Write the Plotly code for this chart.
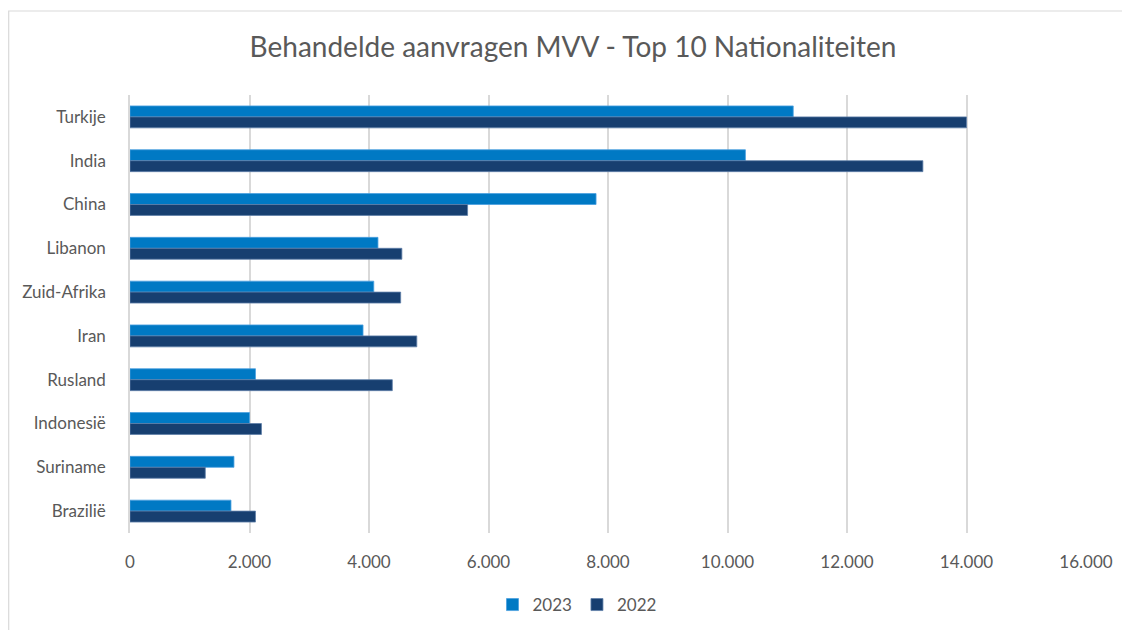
import plotly.graph_objects as go

categories = ["Turkije", "India", "China", "Libanon", "Zuid-Afrika", "Iran",
              "Rusland", "Indonesië", "Suriname", "Brazilië"]
values_2023 = [11100, 10300, 7800, 4150, 4080, 3900, 2100, 2000, 1740, 1690]
values_2022 = [14000, 13270, 5650, 4550, 4530, 4800, 4390, 2200, 1260, 2100]
x_ticks = [0, 2000, 4000, 6000, 8000, 10000, 12000, 14000, 16000]

FONT = "Lato, Open Sans, sans-serif"
GREY = "#595959"

fig = go.Figure()
fig.add_trace(go.Bar(y=categories, x=values_2023, name="2023", orientation="h",
                     marker=dict(color="#0079C4", line=dict(color="#4A9FE0", width=0.8))))
fig.add_trace(go.Bar(y=categories, x=values_2022, name="2022", orientation="h",
                     marker=dict(color="#173F70", line=dict(color="#5F7FA8", width=0.8))))

L, R, T, B = 122, 52, 87, 105
fig.update_layout(
    width=1130, height=630,
    margin=dict(l=L, r=R, t=T, b=B),
    paper_bgcolor="white", plot_bgcolor="white",
    separators=",.",
    barmode="group", bargap=0.5, bargroupgap=0,
    title=dict(text="Behandelde aanvragen MVV - Top 10 Nationaliteiten",
               x=(573 - 8) / 1130, xref="container", xanchor="center",
               y=1 - 39 / 630, yref="container", yanchor="middle",
               font=dict(family=FONT, size=28, color=GREY)),
    legend=dict(orientation="h", x=(577 - 8) / 1130, xref="container", xanchor="center",
                y=1 - 597 / 630, yref="container", yanchor="middle",
                font=dict(family=FONT, size=17, color=GREY),
                traceorder="normal", itemwidth=30),
    font=dict(family=FONT, color=GREY),
    showlegend=True,
)
fig.update_xaxes(range=[0, 16000], tickvals=x_ticks, tickformat=",d",
                 showgrid=True, gridcolor="#D9D9D9", gridwidth=1.5,
                 zeroline=False, showline=False,
                 ticklabelstandoff=17,
                 tickfont=dict(family=FONT, size=17, color=GREY))
fig.update_yaxes(autorange="reversed", showgrid=False, zeroline=False,
                 showline=True, linecolor="#D9D9D9", linewidth=1.5,
                 ticklabelstandoff=19,
                 tickfont=dict(family=FONT, size=17, color=GREY))

# chart area border (top and left visible, right/bottom cropped)
plot_w = 1130 - L - R
plot_h = 630 - T - B
fig.add_shape(type="rect", xref="paper", yref="paper",
              x0=(0.7 - L) / plot_w, x1=1.3, y0=-0.5, y1=1 + (T - 3) / plot_h,
              line=dict(color="#D9D9D9", width=1.2), layer="below")

fig.write_html("out.html")
